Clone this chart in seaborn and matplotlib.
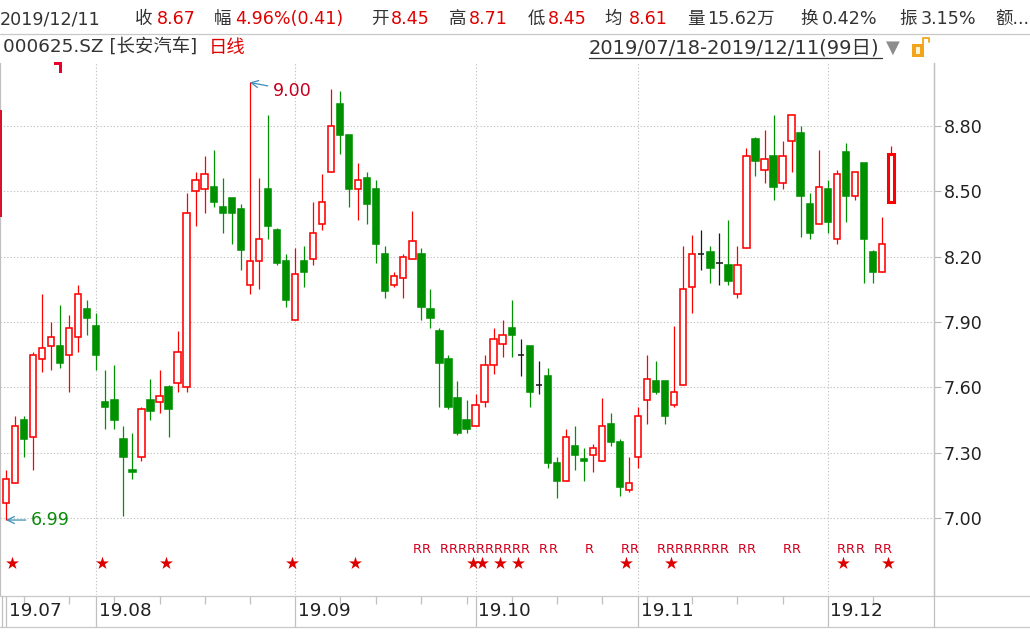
import matplotlib
matplotlib.use('Agg')
import matplotlib.pyplot as plt
from matplotlib.lines import Line2D
from matplotlib.patches import Rectangle
import numpy as np
import seaborn as sns

# daily OHLC, 2019/07/18 - 2019/12/11 (99 days)
opens = [7.07, 7.16, 7.45, 7.37, 7.73, 7.79, 7.79, 7.75, 7.83, 7.96,
         7.88, 7.53, 7.54, 7.36, 7.22, 7.28, 7.54, 7.53, 7.60, 7.62,
         7.60, 8.50, 8.51, 8.52, 8.43, 8.47, 8.42, 8.07, 8.18, 8.51,
         8.32, 8.18, 7.91, 8.18, 8.19, 8.35, 8.59, 8.90, 8.76, 8.51,
         8.56, 8.51, 8.21, 8.07, 8.10, 8.19, 8.21, 7.96, 7.86, 7.73,
         7.55, 7.45, 7.42, 7.53, 7.70, 7.80, 7.87, 7.75, 7.79, 7.61,
         7.65, 7.25, 7.17, 7.33, 7.27, 7.29, 7.26, 7.43, 7.35, 7.13,
         7.28, 7.54, 7.63, 7.63, 7.52, 7.61, 8.06, 8.21, 8.22, 8.17,
         8.16, 8.03, 8.24, 8.74, 8.60, 8.66, 8.54, 8.73, 8.77, 8.44,
         8.35, 8.51, 8.28, 8.68, 8.48, 8.63, 8.22, 8.13, 8.45]
highs = [7.22, 7.47, 7.47, 7.76, 8.03, 7.90, 7.98, 7.93, 8.07, 8.00,
         7.94, 7.68, 7.70, 7.42, 7.39, 7.51, 7.64, 7.68, 7.61, 7.86,
         8.49, 8.59, 8.66, 8.69, 8.56, 8.47, 8.44, 9.00, 8.56, 8.85,
         8.33, 8.21, 8.24, 8.25, 8.45, 8.58, 8.97, 8.96, 8.76, 8.63,
         8.59, 8.55, 8.25, 8.13, 8.21, 8.41, 8.24, 8.05, 7.87, 7.75,
         7.63, 7.54, 7.57, 7.75, 7.87, 7.91, 8.00, 7.82, 7.79, 7.72,
         7.69, 7.28, 7.41, 7.42, 7.32, 7.34, 7.55, 7.48, 7.36, 7.28,
         7.51, 7.75, 7.72, 7.63, 7.88, 8.25, 8.30, 8.32, 8.25, 8.31,
         8.37, 8.25, 8.70, 8.75, 8.78, 8.85, 8.73, 8.85, 8.80, 8.49,
         8.69, 8.55, 8.60, 8.72, 8.59, 8.63, 8.23, 8.38, 8.71]
lows = [6.99, 7.16, 7.28, 7.22, 7.67, 7.68, 7.69, 7.58, 7.76, 7.84,
        7.68, 7.41, 7.41, 7.01, 7.18, 7.26, 7.45, 7.48, 7.37, 7.58,
        7.58, 8.34, 8.40, 8.43, 8.31, 8.26, 8.14, 8.03, 8.05, 8.28,
        8.16, 7.97, 7.91, 8.06, 8.16, 8.32, 8.59, 8.67, 8.43, 8.37,
        8.35, 8.17, 8.01, 8.06, 8.01, 8.19, 7.91, 7.87, 7.51, 7.50,
        7.38, 7.39, 7.42, 7.51, 7.66, 7.74, 7.74, 7.65, 7.51, 7.57,
        7.23, 7.09, 7.17, 7.22, 7.17, 7.21, 7.26, 7.33, 7.10, 7.12,
        7.23, 7.43, 7.57, 7.43, 7.51, 7.61, 7.94, 8.14, 8.08, 8.07,
        8.07, 8.01, 8.24, 8.57, 8.54, 8.46, 8.51, 8.59, 8.29, 8.28,
        8.35, 8.31, 8.26, 8.36, 8.46, 8.08, 8.08, 8.13, 8.45]
closes = [7.18, 7.42, 7.36, 7.75, 7.78, 7.83, 7.71, 7.87, 8.03, 7.92,
          7.75, 7.51, 7.45, 7.28, 7.21, 7.50, 7.49, 7.56, 7.50, 7.76,
          8.40, 8.55, 8.58, 8.45, 8.40, 8.40, 8.23, 8.18, 8.28, 8.34,
          8.17, 8.00, 8.12, 8.13, 8.31, 8.45, 8.80, 8.76, 8.51, 8.55,
          8.44, 8.26, 8.04, 8.11, 8.20, 8.27, 7.97, 7.92, 7.71, 7.51,
          7.39, 7.41, 7.52, 7.70, 7.82, 7.84, 7.84, 7.75, 7.58, 7.61,
          7.25, 7.17, 7.37, 7.29, 7.26, 7.32, 7.42, 7.35, 7.14, 7.16,
          7.47, 7.64, 7.58, 7.47, 7.58, 8.05, 8.21, 8.21, 8.15, 8.17,
          8.09, 8.16, 8.66, 8.64, 8.65, 8.52, 8.66, 8.85, 8.48, 8.31,
          8.52, 8.36, 8.58, 8.48, 8.59, 8.28, 8.13, 8.26, 8.67]

price_ticks = [7.00, 7.30, 7.60, 7.90, 8.20, 8.50, 8.80]
month_idx = [0, 10, 32, 52, 70, 91]
month_labels = ['19.07', '19.08', '19.09', '19.10', '19.11', '19.12']
monday_idx = [2, 7, 12, 17, 22, 27, 37, 41, 46, 51, 56, 61, 66, 71, 76, 81, 86, 96]
star_idx = [0, 10, 17, 31, 38, 51, 52, 54, 56, 68, 73, 92, 97]
r_idx = [45, 46, 48, 49, 50, 51, 52, 53, 54, 55, 56, 57, 59, 60, 64, 68, 69,
         72, 73, 74, 75, 76, 77, 78, 79, 81, 82, 86, 87, 92, 93, 94, 96, 97]

header_items = [
    ('2019/12/11', 0, '#333333'), ('收', 135, '#333333'), ('8.67', 157, '#e00000'),
    ('幅', 214, '#333333'), ('4.96%(0.41)', 235, '#e00000'),
    ('开', 371, '#333333'), ('8.45', 391, '#e00000'),
    ('高', 449, '#333333'), ('8.71', 469, '#e00000'),
    ('低', 528, '#333333'), ('8.45', 548, '#e00000'),
    ('均', 604, '#333333'), ('8.61', 629, '#e00000'),
    ('量', 687, '#333333'), ('15.62万', 707, '#333333'),
    ('换', 800, '#333333'), ('0.42%', 822, '#333333'),
    ('振', 899, '#333333'), ('3.15%', 921, '#333333'),
    ('额...', 995, '#333333'),
]

UP = '#ff0000'
DOWN = '#009100'
FLAT = '#1a1a1a'
GRID = '#c4c4c4'
W, H = 1030, 634

sns.set_style('white')
plt.rcParams['font.family'] = ['DejaVu Sans', 'Noto Sans CJK SC']

def fx(px):
    return px / W

def fy(py):
    return 1 - py / H

fig = plt.figure(figsize=(10.3, 6.34), dpi=100)

o = np.array(opens)
c = np.array(closes)
hi = np.array(highs)
lo = np.array(lows)
idx = np.arange(len(o))

ymin = 8.80 - (595 - 126) / 217.7
ymax = 8.80 + (126 - 63) / 217.7
xmin = (0 - 6) / 9.03
xmax = (934 - 6) / 9.03

ax = fig.add_axes([0, fy(595), fx(934), (595 - 63) / H])
ax.set_xlim(xmin, xmax)
ax.set_ylim(ymin, ymax)

cols = np.where(c > o, UP, np.where(c < o, DOWN, FLAT))
faces = np.where(c > o, 'white', np.where(c < o, DOWN, 'none'))

ax.vlines(idx, lo, hi, colors=cols, lw=0.9, zorder=2)
ax.bar(idx[:-1], (c - o)[:-1], bottom=o[:-1], width=0.7,
       color=faces[:-1], edgecolor=cols[:-1], linewidth=1.15, zorder=3)
# last (selected) candle drawn with a heavier outline
ax.bar(idx[-1:], (c - o)[-1:], bottom=o[-1:], width=0.72,
       color='white', edgecolor=UP, linewidth=2.2, zorder=3)

# grid
ax.set_yticks(price_ticks)
ax.set_yticklabels(['%.2f' % t for t in price_ticks])
ax.grid(axis='y', ls=(0, (1.2, 1.8)), color=GRID, lw=0.8)
for m in month_idx[1:]:
    ax.axvline(m, ls=(0, (1.2, 1.8)), color=GRID, lw=0.8, zorder=1)
ax.set_xticks([])
ax.yaxis.tick_right()
ax.tick_params(axis='y', length=5, width=0.8, color='#b8b8b8', labelsize=12.6,
               labelcolor='#222222', pad=2, direction='out')
for s in ['top', 'bottom']:
    ax.spines[s].set_visible(False)
for s in ['left', 'right']:
    ax.spines[s].set_color('#c0c0c0')
    ax.spines[s].set_linewidth(0.9)

# extreme value markers
ax.annotate('9.00', xy=(int(np.argmax(hi)), hi.max()), xytext=(29.5, 8.963),
            ha='left', va='center', fontsize=12.6, color='#c4001e',
            arrowprops=dict(arrowstyle='->', color='#3a8fb7', lw=0.9,
                            shrinkA=1, shrinkB=0))
ax.annotate('6.99', xy=(int(np.argmin(lo)), lo.min()), xytext=(2.7, lo.min()),
            ha='left', va='center', fontsize=12.6, color='#0a8a0a',
            arrowprops=dict(arrowstyle='->', color='#3a8fb7', lw=0.9,
                            shrinkA=1, shrinkB=0))

# signal rows
star_y = ymin + 0.060 * (ymax - ymin)
sns.scatterplot(x=np.array(star_idx) + 0.67, y=[star_y] * len(star_idx), marker='*',
                s=95, color='#dd0000', linewidth=0, ax=ax, zorder=4)
r_y = ymin + 0.0846 * (ymax - ymin)
for i in r_idx:
    ax.text(i + 0.05, r_y, 'R', fontsize=9.3, color='#d0001e', ha='left', va='center')

# date band
bax = fig.add_axes([0, fy(627), fx(934), (627 - 596) / H])
bax.set_xlim(xmin, xmax)
bax.set_ylim(0, 1)
bax.axis('off')
bax.vlines(month_idx, 0, 1, colors='#c0c0c0', lw=0.9)
bax.vlines(monday_idx, 0.75, 1, colors='#c0c0c0', lw=0.9)
for m, lab in zip(month_idx, month_labels):
    bax.text(m + 0.3, 0.5, lab, fontsize=13.2, color='#222222', ha='left', va='center')

# frame lines
for yy in [34, 596, 627]:
    fig.add_artist(Line2D([0, 1], [fy(yy), fy(yy)], color='#c8c8c8', lw=0.9))
fig.add_artist(Line2D([fx(934), fx(934)], [fy(63), fy(627)], color='#c0c0c0', lw=0.9))
fig.add_artist(Line2D([fx(1.5), fx(1.5)], [fy(596), fy(627)], color='#c0c0c0', lw=0.9))

# left-edge red bar and small marker
fig.add_artist(Rectangle((0, fy(217)), fx(2), (217 - 110) / H, color='#d8102c', lw=0))
fig.add_artist(Rectangle((fx(54), fy(65)), fx(8), 3 / H, color='#e8002a', lw=0))
fig.add_artist(Rectangle((fx(59), fy(73)), fx(3), 10 / H, color='#e8002a', lw=0))

# header
for txt, x, col in header_items:
    fig.text(fx(x), fy(19), txt, fontsize=12.6, color=col, ha='left', va='center')

fig.text(fx(3), fy(48), '000625.SZ [长安汽车]', fontsize=13.2, color='#333333',
         ha='left', va='center')
fig.text(fx(209), fy(48), '日线', fontsize=13.2, color='#e00000', ha='left', va='center')
fig.text(fx(589), fy(48), '2019/07/18-2019/12/11(99日)', fontsize=14,
         color='#333333', ha='left', va='center')
fig.add_artist(Line2D([fx(589), fx(882)], [fy(58), fy(58)], color='#333333', lw=0.9))
fig.text(fx(886), fy(48), '▼', fontsize=13, color='#8c8c8c', ha='left', va='center')
fig.add_artist(Rectangle((fx(912), fy(57)), fx(12), 13 / H, color='#f2a51a', lw=0))
fig.add_artist(Rectangle((fx(916), fy(54)), fx(4), 7 / H, color='#fff4d6', lw=0))
fig.add_artist(Line2D([fx(923), fx(923), fx(929), fx(929)],
                      [fy(44), fy(38), fy(38), fy(42)], color='#f2a51a', lw=1.3))

fig.savefig('out.png', dpi=100)
plt.close(fig)
